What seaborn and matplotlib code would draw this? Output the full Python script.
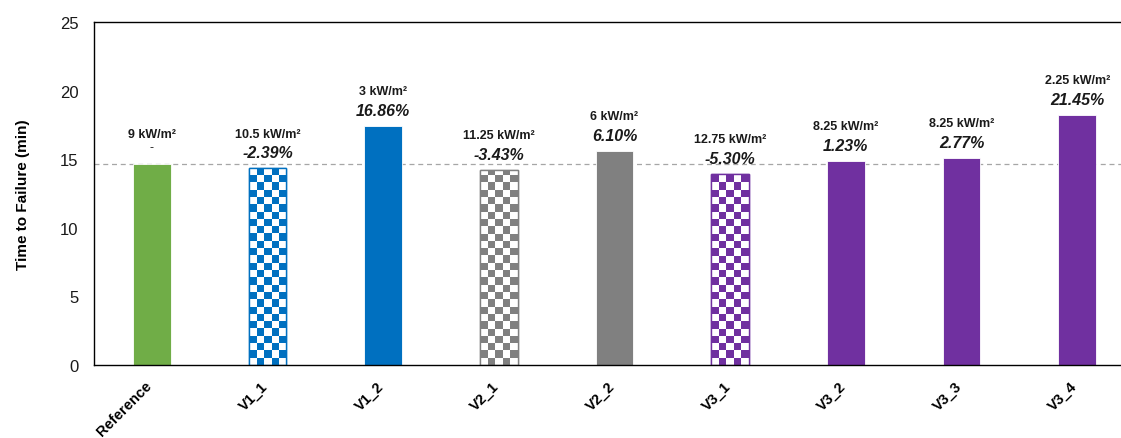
import numpy as np
import pandas as pd
import matplotlib
matplotlib.use("Agg")
import matplotlib.pyplot as plt
import matplotlib.transforms as mtransforms
import seaborn as sns

categories = ["Reference", "V1_1", "V1_2", "V2_1", "V2_2", "V3_1", "V3_2", "V3_3", "V3_4"]
time_to_failure = [14.67, 14.34, 17.44, 14.21, 15.62, 13.92, 14.89, 15.09, 18.24]
flux_labels = ["9 kW/m²", "10.5 kW/m²", "3 kW/m²", "11.25 kW/m²", "6 kW/m²",
               "12.75 kW/m²", "8.25 kW/m²", "8.25 kW/m²", "2.25 kW/m²"]
pct_labels = ["-", "-2.39%", "16.86%", "-3.43%", "6.10%", "-5.30%", "1.23%", "2.77%", "21.45%"]
bar_colors = ["#70AD47", "#0070C0", "#0070C0", "#808080", "#808080",
              "#7030A0", "#7030A0", "#7030A0", "#7030A0"]
checkered = [False, True, False, True, False, True, False, False, False]
reference_value = time_to_failure[0]

sns.set_theme(style="white")
plt.rcParams["font.family"] = ["Liberation Sans", "DejaVu Sans"]

df = pd.DataFrame({"cat": categories, "val": time_to_failure})

fig = plt.figure(figsize=(11.21, 4.39), dpi=100)
ax = fig.add_axes([94 / 1121, 1 - 366 / 439, 1041 / 1121, 343 / 439])

sns.barplot(data=df, x="cat", y="val", hue="cat", palette=bar_colors, legend=False,
            width=0.326, ax=ax, saturation=1)

ax.set_ylim(0, 25)
ax.set_xlim(-0.5, len(categories) - 0.5)
ax.set_yticks([0, 5, 10, 15, 20, 25])

fig.canvas.draw()
px_per_x = ax.transData.transform((1, 0))[0] - ax.transData.transform((0, 0))[0]
px_per_y = ax.transData.transform((0, 1))[1] - ax.transData.transform((0, 0))[1]
cell_px = 7.3

for i, bar in enumerate(ax.patches):
    col = bar_colors[i]
    if checkered[i]:
        bar.set_facecolor("white")
        bar.set_edgecolor(col)
        bar.set_linewidth(1.0)
        x0, w, h = bar.get_x(), bar.get_width(), bar.get_height()
        ncol = max(1, int(round(w * px_per_x / cell_px)))
        nrow = max(1, int(np.ceil(h * px_per_y / cell_px)))
        cell_h = cell_px / px_per_y
        grid = (np.indices((nrow, ncol)).sum(axis=0) % 2).astype(float)
        cmap = matplotlib.colors.ListedColormap(["white", col])
        im = ax.imshow(grid, cmap=cmap, vmin=0, vmax=1, origin="lower", aspect="auto",
                       interpolation="nearest",
                       extent=(x0, x0 + w, 0, nrow * cell_h), zorder=bar.get_zorder() + 0.1)
        im.set_clip_path(bar)
        ax.add_patch(matplotlib.patches.Rectangle((x0, 0), w, h, fill=False, edgecolor=col,
                                                  linewidth=1.0, zorder=bar.get_zorder() + 0.2))
    else:
        bar.set_edgecolor("#FFFFFF")
        bar.set_linewidth(0.6)
    cx = bar.get_x() + bar.get_width() / 2
    top = bar.get_height()
    if pct_labels[i] == "-":
        ax.annotate(flux_labels[i], (cx, top), xytext=(0, 21.5), textcoords="offset points",
                    ha="center", va="center", fontsize=9, fontweight="bold", color="#1a1a1a")
        ax.annotate(pct_labels[i], (cx, top), xytext=(0, 12), textcoords="offset points",
                    ha="center", va="center", fontsize=9, color="#1a1a1a")
    else:
        ax.annotate(flux_labels[i], (cx, top), xytext=(0, 25), textcoords="offset points",
                    ha="center", va="center", fontsize=9, fontweight="bold", color="#1a1a1a")
        ax.annotate(pct_labels[i], (cx, top), xytext=(0, 11), textcoords="offset points",
                    ha="center", va="center", fontsize=11.5, fontweight="bold",
                    fontstyle="italic", color="#1a1a1a")

ax.axhline(reference_value, color="#A6A6A6", linestyle=(0, (4, 3)), linewidth=0.9, zorder=0.5)

ax.set_xlabel("")
ax.set_ylabel("Time to Failure (min)", fontsize=11, fontweight="bold", color="black")
ax.yaxis.set_label_coords((30 - 94) / 1041, 0.5)
ax.tick_params(axis="y", labelsize=12, length=0, pad=11, labelcolor="#1a1a1a")
ax.tick_params(axis="x", length=0, pad=9.5)
shift = mtransforms.ScaledTranslation(-7 / 100, 0, fig.dpi_scale_trans)
for lab in ax.get_xticklabels():
    lab.set_rotation(45)
    lab.set_ha("right")
    lab.set_va("top")
    lab.set_rotation_mode("anchor")
    lab.set_fontweight("bold")
    lab.set_fontsize(10.5)
    lab.set_color("black")
    lab.set_transform(lab.get_transform() + shift)

for side in ["left", "bottom", "top"]:
    ax.spines[side].set_visible(True)
    ax.spines[side].set_color("black")
    ax.spines[side].set_linewidth(1.0)
ax.spines["right"].set_visible(False)
ax.grid(False)

fig.savefig("out.png", dpi=100)
